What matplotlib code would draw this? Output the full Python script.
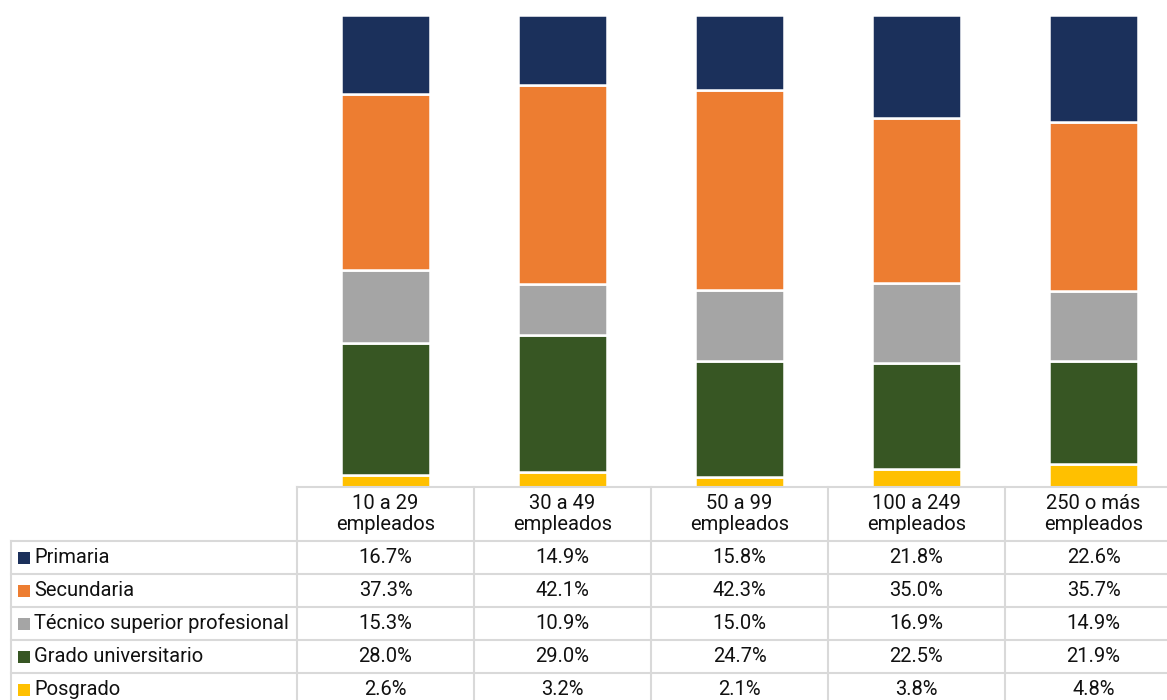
import matplotlib
matplotlib.use("Agg")
import matplotlib.pyplot as plt
import numpy as np
from matplotlib.patches import Rectangle

plt.rcParams["font.family"] = ["Roboto", "DejaVu Sans"]

# ── Data ───────────────────────────────────────
categories = ["10 a 29\nempleados", "30 a 49\nempleados", "50 a 99\nempleados",
              "100 a 249\nempleados", "250 o más\nempleados"]
series = ["Primaria", "Secundaria", "Técnico superior profesional",
          "Grado universitario", "Posgrado"]
primaria = [16.7, 14.9, 15.8, 21.8, 22.6]
secundaria = [37.3, 42.1, 42.3, 35.0, 35.7]
tecnico = [15.3, 10.9, 15.0, 16.9, 14.9]
grado = [28.0, 29.0, 24.7, 22.5, 21.9]
posgrado = [2.6, 3.2, 2.1, 3.8, 4.8]

COLORS = ["#1b305b", "#ed7d31", "#a5a5a5", "#375623", "#ffc000"]
GRID = "#d9d9d9"

# ── Layout (pixels) ────────────────────────────
W, H = 1167, 700
COL_LEFT, COL_W = 297, 177
LEFT_EDGE = 11
TABLE_TOP, HEADER_BOT, ROW_H = 487, 541, 33
BAR_TOP = 15
FS = 14.5

fig = plt.figure(figsize=(W / 100, H / 100), dpi=100)

# bar axes spans the five table columns
ax = fig.add_axes([COL_LEFT / W, 1 - TABLE_TOP / H,
                   5 * COL_W / W, (TABLE_TOP - BAR_TOP) / H])
x = np.arange(len(categories))
stack_bottom_up = [posgrado, grado, tecnico, secundaria, primaria]
colors_bottom_up = COLORS[::-1]
bottom = np.zeros(len(categories))
for vals, col in zip(stack_bottom_up, colors_bottom_up):
    ax.bar(x, vals, bottom=bottom, width=0.5, color=col,
           edgecolor="white", linewidth=1.8)
    bottom += np.array(vals)
ax.set_xlim(-0.5, 4.5)
ax.set_ylim(0, 100)
ax.axis("off")

# ── Data table drawn in pixel space ────────────
tax = fig.add_axes([0, 0, 1, 1])
tax.set_xlim(0, W)
tax.set_ylim(H, 0)
tax.axis("off")

n_rows = len(series)
right = COL_LEFT + 5 * COL_W
bottom_px = HEADER_BOT + ROW_H * n_rows
lw = 1.5

# horizontal lines
tax.plot([COL_LEFT, right], [TABLE_TOP, TABLE_TOP], color=GRID, lw=lw)
for r in range(n_rows + 1):
    y = HEADER_BOT + r * ROW_H
    tax.plot([LEFT_EDGE, right], [y, y], color=GRID, lw=lw)
# vertical lines
tax.plot([LEFT_EDGE, LEFT_EDGE], [HEADER_BOT, bottom_px], color=GRID, lw=lw)
for c in range(6):
    xc = COL_LEFT + c * COL_W
    tax.plot([xc, xc], [TABLE_TOP, bottom_px], color=GRID, lw=lw)

# header
for c, cat in enumerate(categories):
    tax.text(COL_LEFT + (c + 0.5) * COL_W, (TABLE_TOP + HEADER_BOT) / 2, cat,
             ha="center", va="center", fontsize=FS, linespacing=1.1, color="#111111")

# rows
all_vals = [primaria, secundaria, tecnico, grado, posgrado]
for r, (name, vals, col) in enumerate(zip(series, all_vals, COLORS)):
    yc = HEADER_BOT + (r + 0.5) * ROW_H
    tax.add_patch(Rectangle((18, yc - 6), 12, 12, color=col, lw=0))
    tax.text(34, yc, name, ha="left", va="center", fontsize=FS, color="#111111")
    for c, v in enumerate(vals):
        tax.text(COL_LEFT + (c + 0.5) * COL_W, yc, f"{v:.1f}%",
                 ha="center", va="center", fontsize=FS, color="#111111")

fig.savefig("out.png", dpi=100)
